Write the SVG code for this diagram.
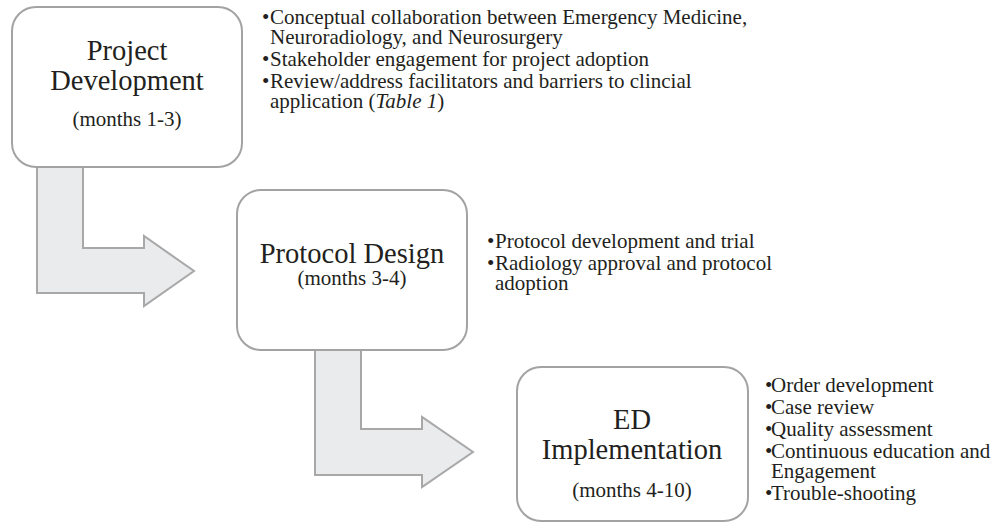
<svg xmlns="http://www.w3.org/2000/svg" width="995" height="524" viewBox="0 0 995 524">
  <style>
    .box { fill: #ffffff; stroke: #a3a3a3; stroke-width: 2; }
    .arrow { fill: #eaebed; stroke: #a8a8a8; stroke-width: 2; stroke-linejoin: miter; }
    text { font-family: "Liberation Serif", "Times New Roman", serif; fill: #231f20; }
    .title { font-size: 28.5px; text-anchor: middle; }
    .months { font-size: 21px; text-anchor: middle; }
    .bullet { font-size: 21px; }
  </style>

  <!-- connectors: bent block arrows between the phases -->
  <g id="connectors">
    <path class="arrow" d="M37,162 L83,162 L83,248 L144,248 L144,236 L194,271 L144,306 L144,293 L37,293 Z"/>
    <path class="arrow" d="M315,345 L361,345 L361,429 L422,429 L422,417 L473,452 L422,487 L422,475 L315,475 Z"/>
  </g>

  <!-- phase 1 -->
  <g id="project-development">
    <rect class="box" x="12" y="7" width="230" height="160" rx="24" ry="24"/>
    <text class="title" x="127" y="60">Project</text>
    <text class="title" x="127" y="90">Development</text>
    <text class="months" x="127" y="126">(months 1-3)</text>
  </g>
  <g id="project-development-notes" class="bullet">
    <text x="262" y="24">•</text><text x="270" y="24">Conceptual collaboration between Emergency Medicine,</text>
    <text x="270" y="44">Neuroradiology, and Neurosurgery</text>
    <text x="262" y="66">•</text><text x="270" y="66">Stakeholder engagement for project adoption</text>
    <text x="262" y="88">•</text><text x="270" y="88">Review/address facilitators and barriers to clincial</text>
    <text x="270" y="108">application (<tspan font-style="italic">Table 1</tspan>)</text>
  </g>

  <!-- phase 2 -->
  <g id="protocol-design">
    <rect class="box" x="237" y="190" width="230" height="160" rx="24" ry="24"/>
    <text class="title" x="352" y="263">Protocol Design</text>
    <text class="months" x="352" y="285">(months 3-4)</text>
  </g>
  <g id="protocol-design-notes" class="bullet">
    <text x="487" y="248">•</text><text x="495" y="248">Protocol development and trial</text>
    <text x="487" y="270">•</text><text x="495" y="270">Radiology approval and protocol</text>
    <text x="495" y="290">adoption</text>
  </g>

  <!-- phase 3 -->
  <g id="ed-implementation">
    <rect class="box" x="517" y="367" width="231" height="154" rx="24" ry="24"/>
    <text class="title" x="632" y="429">ED</text>
    <text class="title" x="632" y="459">Implementation</text>
    <text class="months" x="632" y="497">(months 4-10)</text>
  </g>
  <g id="ed-implementation-notes" class="bullet">
    <text x="765" y="392">•</text><text x="771" y="392">Order development</text>
    <text x="765" y="414">•</text><text x="771" y="414">Case review</text>
    <text x="765" y="436">•</text><text x="771" y="436">Quality assessment</text>
    <text x="765" y="458">•</text><text x="771" y="458">Continuous education and</text>
    <text x="771" y="478">Engagement</text>
    <text x="765" y="500">•</text><text x="771" y="500">Trouble-shooting</text>
  </g>
</svg>
